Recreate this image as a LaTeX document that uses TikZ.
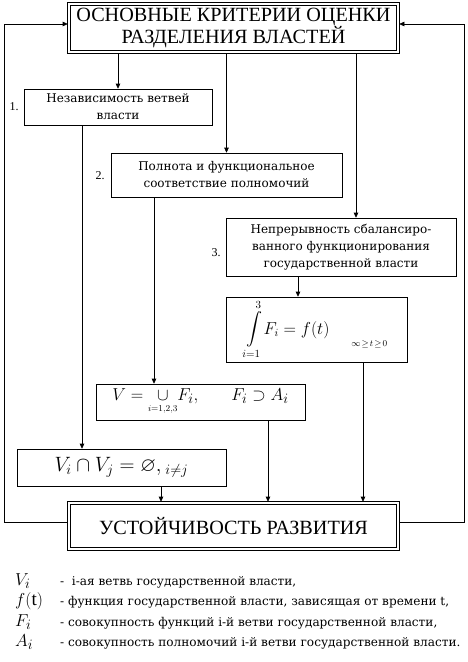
\documentclass[tikz,border=0pt]{standalone}
\usepackage{amsmath,amssymb}
\usepackage{fontspec}
\setmainfont{Liberation Serif}
\newfontfamily\boxfont{DejaVu Serif}
\usetikzlibrary{positioning,arrows.meta,calc}

\begin{document}
\begin{tikzpicture}[x=1pt, y=-1pt,
    box/.style={draw, line width=0.6pt, inner sep=0pt, align=center},
    mainbox/.style={box, minimum width=326pt, font=\fontsize{20.2}{18}\selectfont},
    critbox/.style={box, font=\boxfont\fontsize{12}{17}\selectfont},
    mathbox/.style={box, font=\fontsize{19}{22}\selectfont},
    arr/.style={-{Triangle[length=5pt, width=4.5pt]}, line width=0.6pt},
    num/.style={font=\fontsize{12}{14}\selectfont, inner sep=0pt},
    legsym/.style={anchor=base west, font=\fontsize{19}{19}\selectfont, inner sep=0pt},
    legtext/.style={anchor=base west, font=\boxfont\fontsize{12.1}{14}\selectfont, inner sep=0pt}]
  \useasboundingbox (0,0) rectangle (468,662);

  % Main boxes (double frame)
  \node[mainbox, minimum height=45pt] (top) at (233.5,28)
    {ОСНОВНЫЕ КРИТЕРИИ ОЦЕНКИ\\РАЗДЕЛЕНИЯ ВЛАСТЕЙ};
  \node[mainbox, minimum height=43pt] (bottom) at (233.5,526)
    {УСТОЙЧИВОСТЬ РАЗВИТИЯ};
  \draw[line width=0.6pt] ($(top.south west)+(-2.5pt,-2.5pt)$) rectangle ($(top.north east)+(2.5pt,2.5pt)$);
  \draw[line width=0.6pt] ($(bottom.south west)+(-2.5pt,-2.5pt)$) rectangle ($(bottom.north east)+(2.5pt,2.5pt)$);

  % Criteria
  \node[critbox, minimum width=188pt, minimum height=36pt] (crit1) at (118,107)
    {Независимость ветвей\\власти};
  \node[critbox, minimum width=231pt, minimum height=44pt] (crit2) at (226.5,175)
    {Полнота и функциональное\\соответствие полномочий};
  \node[critbox, minimum width=230pt, minimum height=58pt] (crit3) at (341,247)
    {Непрерывность сбалансиро-\\ванного функционирования\\государственной власти};
  \node[num] (n1) at (14,107) {1.};
  \node[num] (n2) at (100,176) {2.};
  \node[num] (n3) at (216,253) {3.};

  % Formulas
  \node[mathbox, minimum width=181pt, minimum height=65pt, font=\fontsize{16}{22}\selectfont] (integ) at (316.5,329.5)
    {$\displaystyle\int\limits_{i=1}^{3}\! F_i = f(t)$\hspace{22pt}\raisebox{-12pt}{\fontsize{9}{9}\selectfont$\infty\!\geq\! t\!\geq\! 0$}};
  \node[mathbox, minimum width=209pt, minimum height=36pt] (union) at (200.5,402)
    {$V=\mathop{\cup}\limits_{\scriptscriptstyle i=1,2,3}\! F_i,\hspace{30pt} F_i\supset A_i$};
  \node[mathbox, minimum width=209pt, minimum height=37pt, font=\fontsize{20}{22}\selectfont] (disj) at (121.5,467.5)
    {$V_i\cap V_j=\varnothing,_{\;i\neq j}$};

  % Connector positions
  \coordinate (x1) at (82,0);
  \coordinate (x2) at (154,0);
  \coordinate (x3) at (356,0);
  \coordinate (x4) at (298,0);
  \coordinate (x5) at (161,0);
  \coordinate (x6) at (268,0);
  \coordinate (x7) at (363,0);
  \coordinate (xl) at (4,0);
  \coordinate (xr) at (464,0);

  % Connectors
  \draw[arr] ([yshift=-2.5pt]top.south -| crit1.north) -- (crit1.north);
  \draw[arr] ([yshift=-2.5pt]top.south -| crit2.north) -- (crit2.north);
  \draw[arr] ([yshift=-2.5pt]top.south -| x3) -- (crit3.north -| x3);
  \draw[arr] (crit3.south -| x4) -- (integ.north -| x4);
  \draw[arr] (crit1.south -| x1) -- (disj.north -| x1);
  \draw[arr] (crit2.south -| x2) -- (union.north -| x2);
  \draw[arr] (disj.south -| x5) -- ([yshift=2.5pt]bottom.north -| x5);
  \draw[arr] (union.south -| x6) -- ([yshift=2.5pt]bottom.north -| x6);
  \draw[arr] (integ.south -| x7) -- ([yshift=2.5pt]bottom.north -| x7);

  % Feedback
  \draw[arr] ([xshift=-2.5pt,yshift=4pt]bottom.west) -- ([yshift=4pt]bottom.west -| xl)
    |- ([xshift=-2.5pt,yshift=4pt]top.west);
  \draw[arr] ([xshift=2.5pt,yshift=4pt]bottom.east) -- ([yshift=4pt]bottom.east -| xr)
    |- ([xshift=2.5pt,yshift=4pt]top.east);

  % Legend
  \node[legsym] (lv) at (15,585) {$V_i$};
  \node[legsym] (lf) at (15,605) {$f(\mathrm{t})$};
  \node[legsym] (lF) at (15,626) {$F_i$};
  \node[legsym] (lA) at (15,646) {$A_i$};
  \node[legtext] (tv) at (60,585) {-\ \ i-ая ветвь государственной власти,};
  \node[legtext] (tf) at (60,605) {- функция государственной власти, зависящая от времени t,};
  \node[legtext] (tF) at (60,626) {- совокупность\ функций i-й ветви государственной власти,};
  \node[legtext] (tA) at (60,646) {- совокупность полномочий i-й ветви государственной власти.};
\end{tikzpicture}
\end{document}
